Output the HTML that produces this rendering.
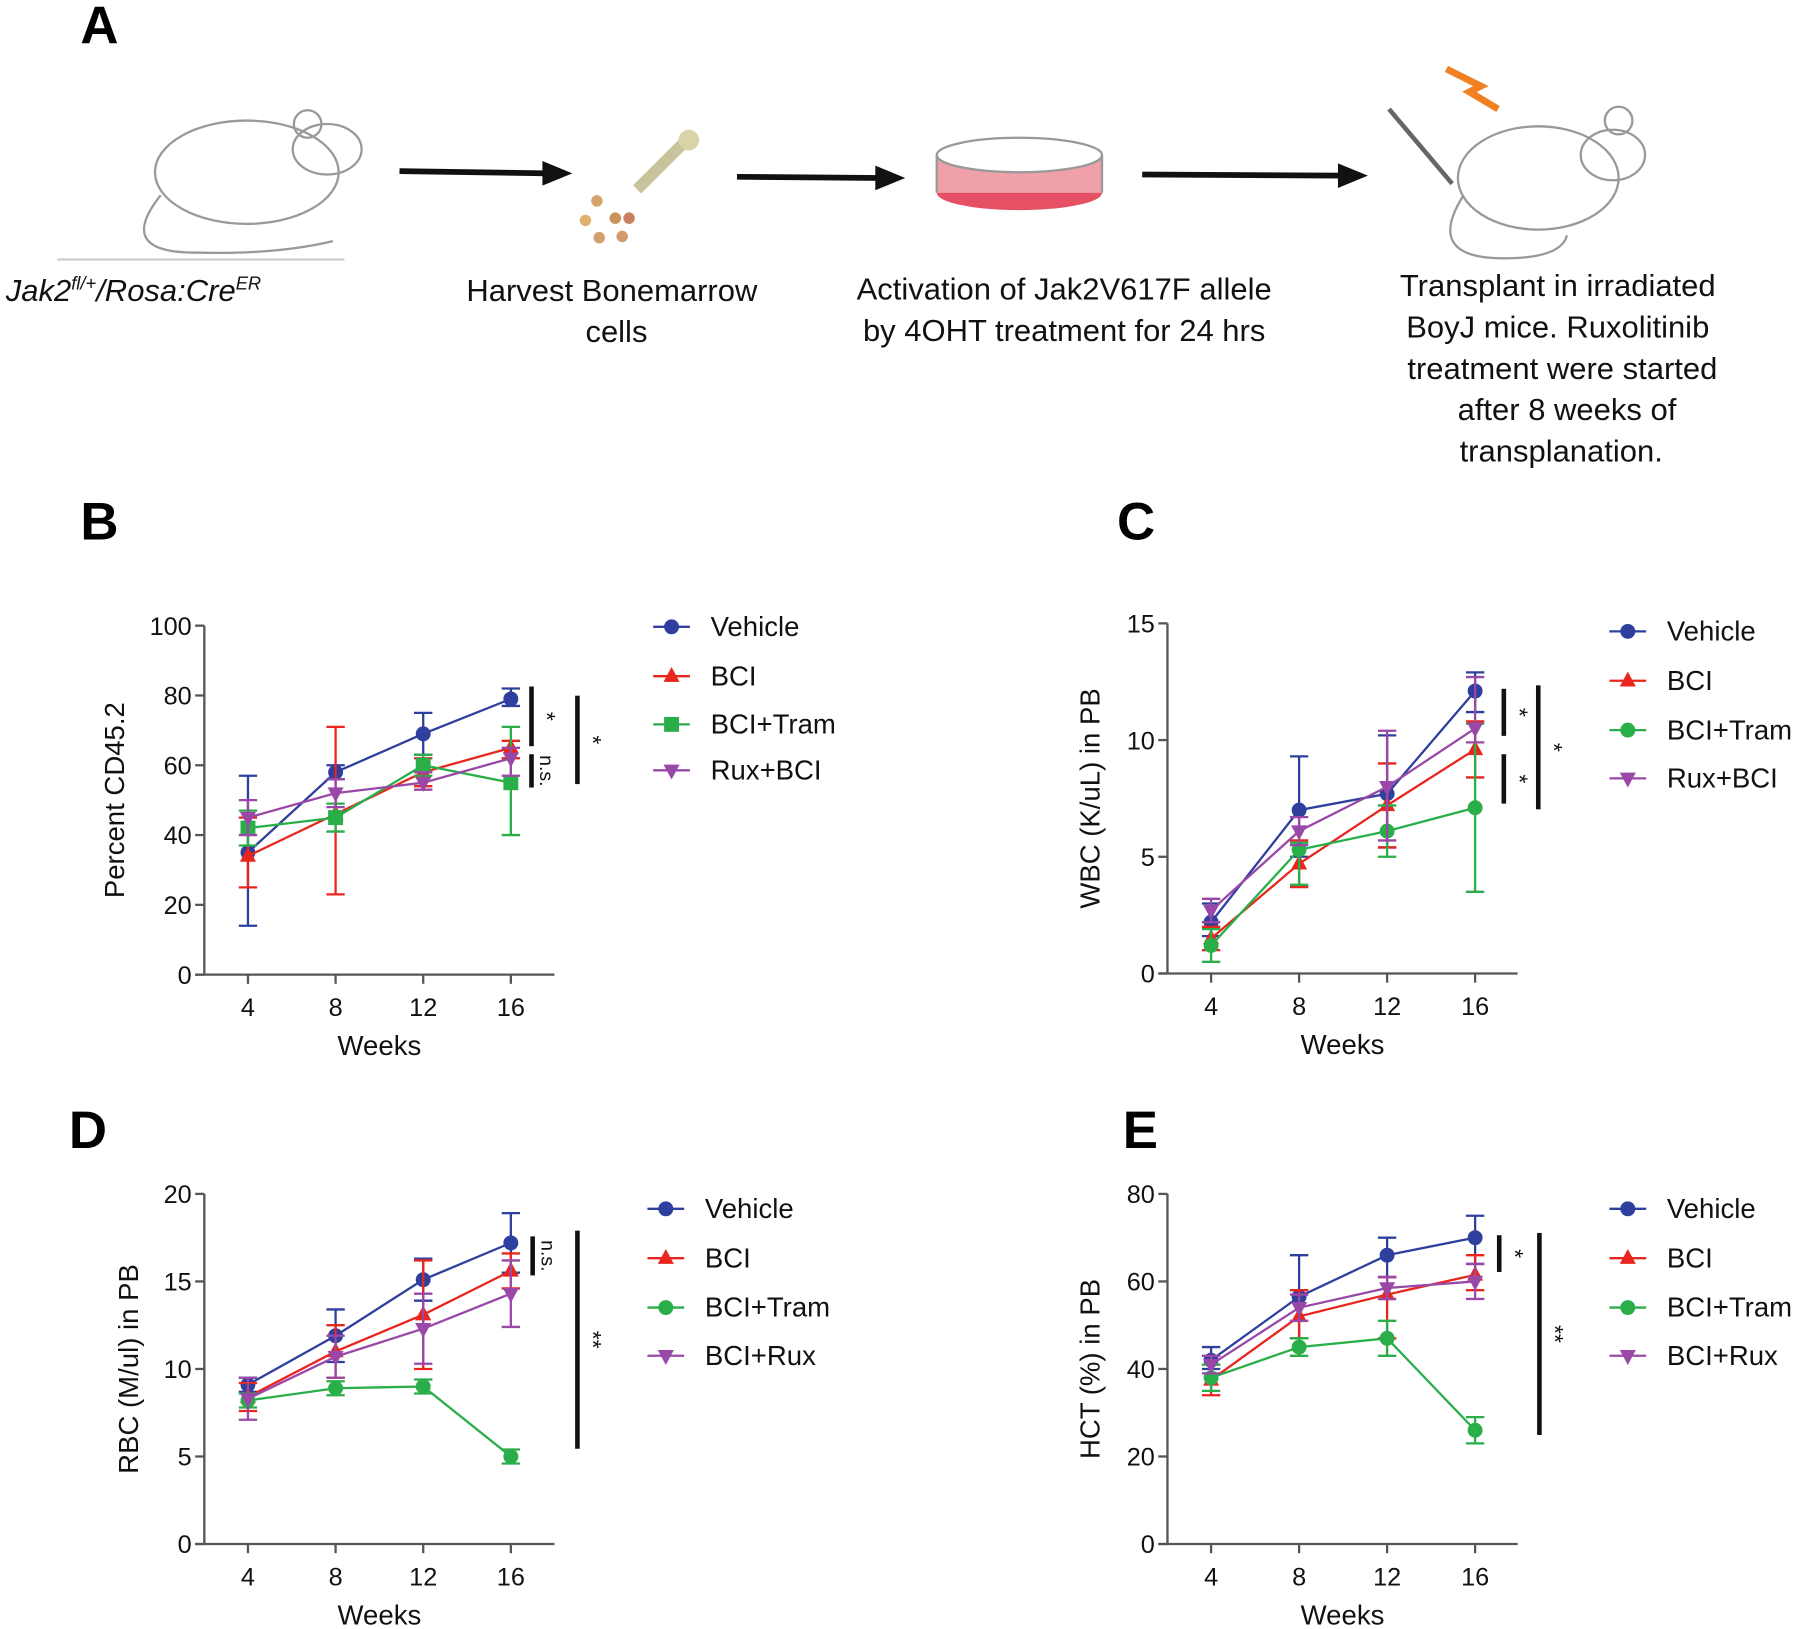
<!DOCTYPE html>
<html><head><meta charset="utf-8"><style>
html,body{margin:0;padding:0;background:#fff}
svg{display:block;font-family:"Liberation Sans",Arial,sans-serif}
</style></head><body>
<svg id="fig" width="1800" height="1629" viewBox="0 0 1568 1419" xmlns="http://www.w3.org/2000/svg">
<g>
<text x="70" y="38" font-size="46" font-weight="bold">A</text>
<g fill="none" stroke="#999" stroke-width="2">
<ellipse cx="215" cy="150" rx="80" ry="45"/><ellipse cx="285" cy="130" rx="30" ry="22"/><circle cx="268" cy="108" r="12"/>
<path d="M140 170 Q100 220 170 220 Q240 222 290 210"/><line x1="50" y1="226" x2="300" y2="226" stroke="#ccc"/></g>
<g>
<path d="M555 165 L595 125" stroke="#c8c39a" stroke-width="10"/><circle cx="600" cy="122" r="9" fill="#d8d3a8"/>
<circle cx="520" cy="175" r="5" fill="#d4a56a"/><circle cx="536" cy="190" r="5" fill="#c9935c"/><circle cx="510" cy="192" r="5" fill="#e0b070"/><circle cx="548" cy="190" r="5" fill="#c98060"/><circle cx="522" cy="207" r="5" fill="#d0a070"/><circle cx="542" cy="206" r="5" fill="#d09a6a"/></g>
<g>
<ellipse cx="888" cy="168" rx="72" ry="15" fill="#e65065"/><rect x="816" y="135" width="144" height="33" fill="#f0a0a8"/><ellipse cx="888" cy="135" rx="72" ry="15" fill="#fff" stroke="#999" stroke-width="2"/>
<line x1="816" y1="135" x2="816" y2="168" stroke="#999" stroke-width="2"/><line x1="960" y1="135" x2="960" y2="168" stroke="#999" stroke-width="2"/></g>
<g fill="none" stroke="#999" stroke-width="2">
<ellipse cx="1340" cy="155" rx="70" ry="45"/><ellipse cx="1405" cy="135" rx="28" ry="22"/><circle cx="1410" cy="105" r="12"/>
<path d="M1275 170 Q1240 225 1310 225 Q1360 225 1365 205"/>
<line x1="1210" y1="95" x2="1265" y2="160" stroke="#666" stroke-width="4"/>
<path d="M1260 60 L1290 75 L1280 80 L1305 95" stroke="#f08020" stroke-width="6"/></g>
<g stroke="#111" stroke-width="5" fill="#111">
<line x1="348" y1="149" x2="478" y2="151"/><polygon points="475,144 492,151 475,158"/>
<line x1="642" y1="154" x2="768" y2="155"/><polygon points="765,148 782,155 765,162"/>
<line x1="995" y1="152" x2="1170" y2="153"/><polygon points="1168,146 1185,153 1168,160"/></g>
<g font-size="27" fill="#111">
<text x="5" y="262" font-style="italic">Jak2<tspan font-size="16" dy="-10">fl/+</tspan><tspan dy="10">/Rosa:Cre</tspan><tspan font-size="16" dy="-10">ER</tspan></text>
<text text-anchor="middle"><tspan x="533" y="262">Harvest Bonemarrow</tspan><tspan x="537" y="298">cells</tspan></text>
<text text-anchor="middle"><tspan x="927" y="261">Activation of Jak2V617F allele</tspan><tspan x="927" y="297">by 4OHT treatment for 24 hrs</tspan></text>
<text text-anchor="middle"><tspan x="1357" y="258">Transplant in irradiated</tspan><tspan x="1357" y="294">BoyJ mice. Ruxolitinib</tspan><tspan x="1361" y="330">treatment were started</tspan><tspan x="1365" y="366">after 8 weeks of</tspan><tspan x="1360" y="402">transplanation.</tspan></text>
</g></g>
</svg>
<script>
const weeks=[4,8,12,16];
const xTickLabels=["4","8","12","16"];
const seriesNamesBC=["Vehicle","BCI","BCI+Tram","Rux+BCI"];
const seriesNamesDE=["Vehicle","BCI","BCI+Tram","BCI+Rux"];
const bMean={veh:[35,58,69,79],bci:[34,46,58,65],tram:[42,45,60,55],rux:[45,52,55,62]};
const bLo={veh:[14,56,63,77],bci:[25,23,54,62],tram:[37,41,57,40],rux:[40,48,53,57]};
const bHi={veh:[57,60,75,82],bci:[45,71,62,67],tram:[47,49,63,71],rux:[50,56,58,65]};
const cMean={veh:[2.2,7.0,7.7,12.1],bci:[1.5,4.7,7.2,9.6],tram:[1.2,5.3,6.1,7.1],rux:[2.7,6.1,8.0,10.5]};
const cLo={veh:[1.6,5.0,5.4,11.2],bci:[1.0,3.7,5.4,8.4],tram:[0.5,3.8,5.0,3.5],rux:[2.2,5.5,5.7,9.9]};
const cHi={veh:[3.0,9.3,10.2,12.9],bci:[2.0,5.7,9.0,10.8],tram:[1.9,5.6,7.2,10.7],rux:[3.2,6.7,10.4,12.7]};
const dMean={veh:[9.1,11.9,15.1,17.2],bci:[8.4,11.0,13.1,15.6],tram:[8.2,8.9,9.0,5.0],rux:[8.3,10.7,12.3,14.3]};
const dLo={veh:[8.7,10.4,13.9,15.5],bci:[7.6,9.5,10.0,14.6],tram:[7.8,8.5,8.6,4.6],rux:[7.1,9.5,10.3,12.4]};
const dHi={veh:[9.5,13.4,16.3,18.9],bci:[9.2,12.5,16.2,16.6],tram:[8.6,9.3,9.4,5.4],rux:[9.5,11.9,14.3,16.2]};
const eMean={veh:[42,56.5,66,70],bci:[37.5,52,57,61.5],tram:[38,45,47,26],rux:[41,54,58.5,60]};
const eLo={veh:[40,47,61,64],bci:[34,47,47,58],tram:[35,43,43,23],rux:[39,51,56,56]};
const eHi={veh:[45,66,70,75],bci:[41,58,61,66],tram:[41,47,51,29],rux:[43,57,61,64]};
const yTicksB=[0,20,40,60,80,100], yTicksC=[0,5,10,15], yTicksD=[0,5,10,15,20], yTicksE=[0,20,40,60,80];

const NS="http://www.w3.org/2000/svg";
const svg=document.getElementById('fig');
function mk(tag,attrs,parent){const e=document.createElementNS(NS,tag);for(const k in attrs)e.setAttribute(k,attrs[k]);(parent||svg).appendChild(e);return e;}
const colors={veh:"#2e3f9e",bci:"#e8261e",tram:"#2aae4a",rux:"#9a48a8"};
const keys=["veh","bci","tram","rux"];
function marker(g,k,x,y,tramSquare){
  let m;
  if(k==="veh"||(k==="tram"&&!tramSquare)) m=mk('circle',{cx:x,cy:y,r:6.5,fill:colors[k]},g);
  else if(k==="tram") m=mk('rect',{x:x-6.5,y:y-6.5,width:13,height:13,fill:colors[k]},g);
  else if(k==="bci") m=mk('polygon',{points:`${x},${y-8} ${x-7},${y+5} ${x+7},${y+5}`,fill:colors[k]},g);
  else m=mk('polygon',{points:`${x},${y+8} ${x-7},${y-5} ${x+7},${y-5}`,fill:colors[k]},g);
  return m;
}
function panel(p){
  const g=mk('g',{});
  
  
  const lt=mk('text',{x:p.lx,y:p.ly,'font-size':46,'font-weight':'bold'},g);lt.textContent=p.letter;
  
  
  const xs=w=>p.x4+(w-4)/12*(p.x16-p.x4);
  const ys=v=>p.y0-(v/p.ymax)*(p.y0-p.ytop);
  const ax=mk('g',{stroke:'#555','stroke-width':2},g);
  
  
  mk('line',{x1:p.ax,y1:p.ytop,x2:p.ax,y2:p.y0},ax);
  mk('line',{x1:p.ax-8,y1:p.y0,x2:p.xend,y2:p.y0},ax);
  p.yt.forEach(v=>{mk('line',{x1:p.ax-8,y1:ys(v),x2:p.ax,y2:ys(v)},ax);
    const t=mk('text',{x:p.ax-11,y:ys(v)+8,'text-anchor':'end','font-size':22,fill:'#111',stroke:'none'},g);t.textContent=v;
    
    });
  weeks.forEach((w,i)=>{mk('line',{x1:xs(w),y1:p.y0,x2:xs(w),y2:p.y0+8},ax);
    const t=mk('text',{x:xs(w),y:p.y0+36,'text-anchor':'middle','font-size':22,fill:'#111'},g);t.textContent=xTickLabels[i];
    
    });
  const xt=mk('text',{x:(p.ax+p.xend)/2,y:p.y0+70,'text-anchor':'middle','font-size':24,fill:'#111'},g);xt.textContent='Weeks';
  
  
  const yc=(p.ytop+p.y0)/2;
  const yt=mk('text',{x:p.ylx,y:yc,'text-anchor':'middle','font-size':24,fill:'#111',transform:`rotate(-90 ${p.ylx} ${yc})`},g);yt.textContent=p.ylabel;
  
  
  keys.forEach(k=>{
    const sg=mk('g',{},g);
    
    
    const pts=weeks.map((w,i)=>xs(w)+','+ys(p.mean[k][i])).join(' ');
    mk('polyline',{points:pts,fill:'none',stroke:colors[k],'stroke-width':2},sg);
    weeks.forEach((w,i)=>{const x=xs(w);
      mk('line',{x1:x,y1:ys(p.lo[k][i]),x2:x,y2:ys(p.hi[k][i]),stroke:colors[k],'stroke-width':2},sg);
      mk('line',{x1:x-8,y1:ys(p.lo[k][i]),x2:x+8,y2:ys(p.lo[k][i]),stroke:colors[k],'stroke-width':2},sg);
      mk('line',{x1:x-8,y1:ys(p.hi[k][i]),x2:x+8,y2:ys(p.hi[k][i]),stroke:colors[k],'stroke-width':2},sg);
      const m=marker(sg,k,x,ys(p.mean[k][i]),p.sq);
      
      
    });
  });
  keys.forEach((k,i)=>{
    const lg=mk('g',{},g);
    
    
    const y=p.legY[i];
    mk('line',{x1:p.legX-16,y1:y,x2:p.legX+16,y2:y,stroke:colors[k],'stroke-width':2},lg);
    marker(lg,k,p.legX,y,p.sq);
    const t=mk('text',{x:p.legX+34,y:y+8,'font-size':24,fill:'#111'},lg);t.textContent=p.names[i];
  });
  p.sig.forEach(s=>{
    const sg=mk('g',{},g);
    
    
    mk('rect',{x:s[0]-2,y:s[1],width:4,height:s[2]-s[1],fill:'#111'},sg);
    const cy=(s[1]+s[2])/2;
    const t=mk('text',{x:s[0]+12,y:cy,'text-anchor':'middle','font-size':s[3]==='n.s.'?17:20,fill:'#111',transform:`rotate(90 ${s[0]+12} ${cy})`,'dominant-baseline':'middle'},sg);
    t.textContent=s[3];
  });
}
panel({name:'panel-b-cd45',letter:'B',lx:70,ly:470,ax:178,xend:483,x4:216,x16:445,y0:849,ytop:545,ymax:100,yt:yTicksB,ylx:108,ylabel:'Percent CD45.2',mean:bMean,lo:bLo,hi:bHi,legX:585,legY:[546,589,631,671],names:seriesNamesBC,sq:true,sig:[[463,598,650,'*'],[463,657,686,'n.s.'],[503,606,683,'*']]});
panel({name:'panel-c-wbc',letter:'C',lx:973,ly:470,ax:1017,xend:1322,x4:1055,x16:1285,y0:848,ytop:543,ymax:15,yt:yTicksC,ylx:958,ylabel:'WBC (K/uL) in PB',mean:cMean,lo:cLo,hi:cHi,legX:1418,legY:[550,593,636,678],names:seriesNamesBC,sq:false,sig:[[1310,600,641,'*'],[1310,657,700,'*'],[1340,597,705,'*']]});
panel({name:'panel-d-rbc',letter:'D',lx:60,ly:1000,ax:178,xend:483,x4:216,x16:445,y0:1345,ytop:1040,ymax:20,yt:yTicksD,ylx:120,ylabel:'RBC (M/ul) in PB',mean:dMean,lo:dLo,hi:dHi,legX:580,legY:[1053,1096,1139,1181],names:seriesNamesDE,sq:false,sig:[[464,1077,1111,'n.s.'],[503,1072,1262,'**']]});
panel({name:'panel-e-hct',letter:'E',lx:978,ly:1000,ax:1017,xend:1322,x4:1055,x16:1285,y0:1345,ytop:1040,ymax:80,yt:yTicksE,ylx:958,ylabel:'HCT (%) in PB',mean:eMean,lo:eLo,hi:eHi,legX:1418,legY:[1053,1096,1139,1181],names:seriesNamesDE,sq:false,sig:[[1306,1076,1108,'*'],[1341,1074,1250,'**']]});
</script>
</body></html>
